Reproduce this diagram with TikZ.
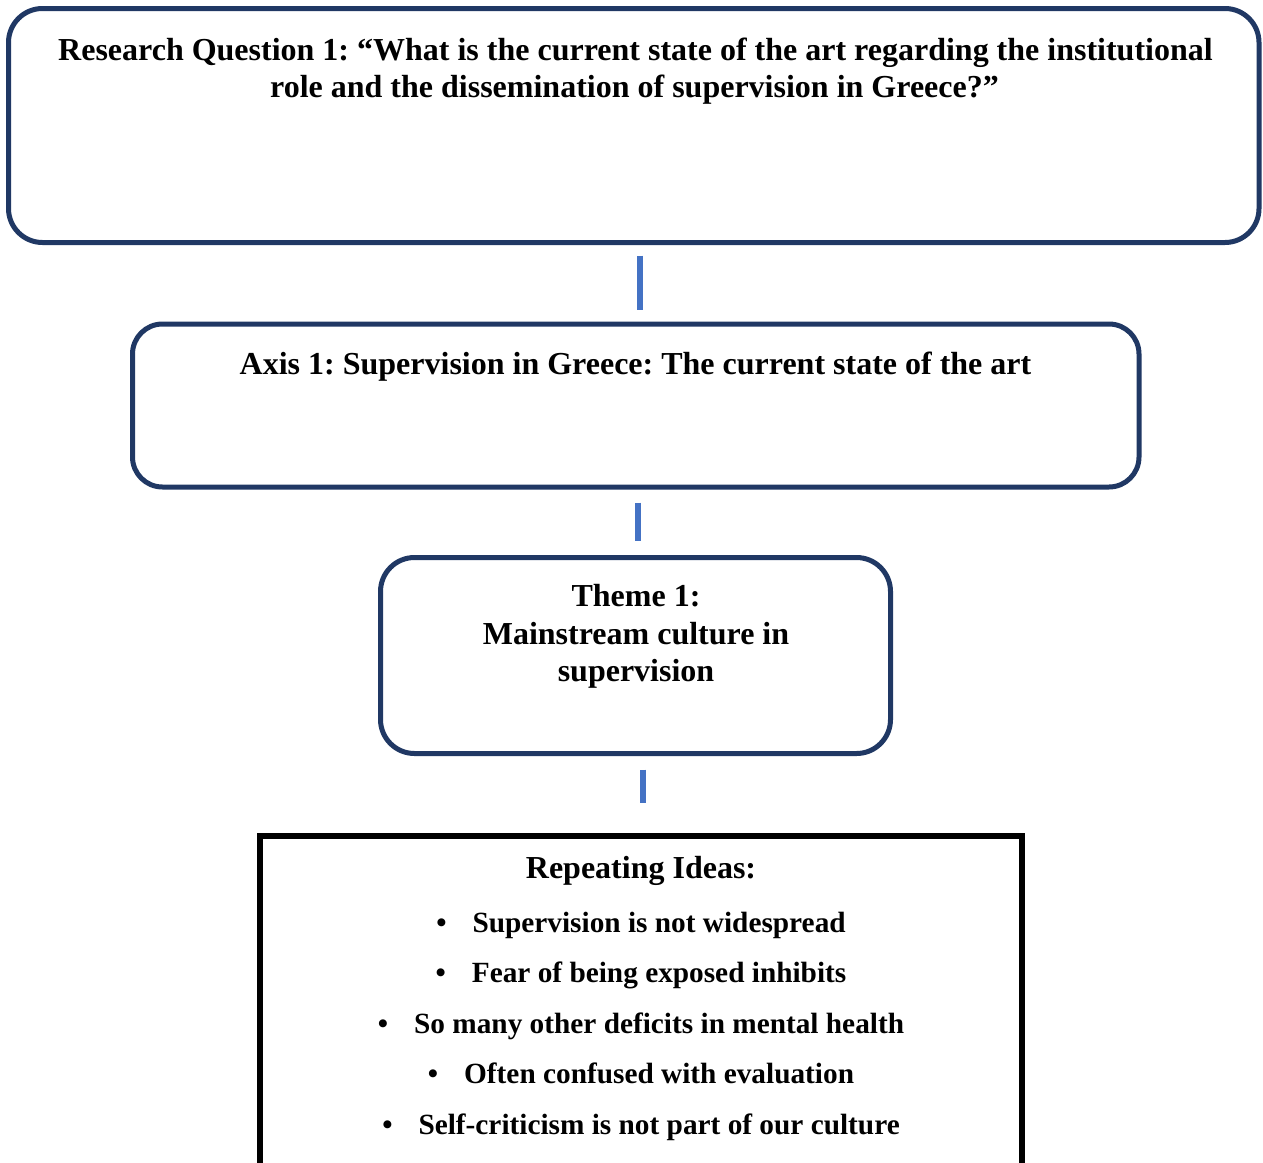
\documentclass[tikz,border=0pt]{standalone}
\usepackage{fontspec}
\setmainfont{Liberation Serif}
\frenchspacing
\definecolor{boxnavy}{HTML}{203864}
\definecolor{linkblue}{HTML}{4472C4}
\begin{document}
\begin{tikzpicture}[x=1pt,y=-1pt,
  roundbox/.style={draw=boxnavy, line width=5pt, rounded corners=34pt, inner sep=0pt},
  plainbox/.style={draw=black, line width=6pt, inner sep=0pt},
  link/.style={draw=linkblue, line width=6pt},
  txt/.style={font=\bfseries\fontsize{32}{38}\selectfont, inner sep=0pt, anchor=base},
  itemtxt/.style={txt, font=\bfseries\fontsize{29.3}{35}\selectfont}]
\useasboundingbox (0,0) rectangle (1263,1162);
\clip (0,0) rectangle (1263,1162);

% boxes
\node[roundbox, minimum width=1250.5pt, minimum height=234pt] (rq) at (633.75,125.5) {};
\node[roundbox, rounded corners=30pt, minimum width=1006.5pt, minimum height=163pt] (axis) at (635.75,405.5) {};
\node[roundbox, minimum width=510pt, minimum height=196pt] (theme) at (635.5,655.5) {};
\node[plainbox, minimum width=762pt, minimum height=464.5pt] (ideas) at (641,1067.75) {};

% connectors
\draw[link] ([xshift=6.25pt,yshift=-10.5pt]rq.south) -- ([xshift=4.25pt,yshift=12pt]axis.north);
\draw[link] ([xshift=2.25pt,yshift=-13pt]axis.south) -- ([xshift=2.5pt,yshift=14.5pt]theme.north);
\draw[link] ([xshift=7.5pt,yshift=-13.5pt]theme.south) -- ([xshift=2pt,yshift=29.5pt]ideas.north);

% texts
\node[txt] (rq1) at (635.5,60) {Research Question 1: “What is the current state of the art regarding the institutional};
\node[txt] (rq2) at (634.5,97) {role and the dissemination of supervision in Greece?”};
\node[txt] (ax1) at (635.5,374) {Axis 1: Supervision in Greece: The current state of the art};
\node[txt] (th1) at (636,606) {Theme 1:};
\node[txt] (th2) at (636,644) {Mainstream culture in};
\node[txt] (th3) at (636,681) {supervision};
\node[txt] (ri0) at (641,878) {Repeating Ideas:};
\foreach \t [count=\i] in {Supervision is not widespread, Fear of being exposed inhibits, So many other deficits in mental health, Often confused with evaluation, Self-criticism is not part of our culture}
  \node[itemtxt] (ri\i) at (641,{932+50.5*(\i-1)}) {•\hspace{26pt}\t};
\end{tikzpicture}
\end{document}
